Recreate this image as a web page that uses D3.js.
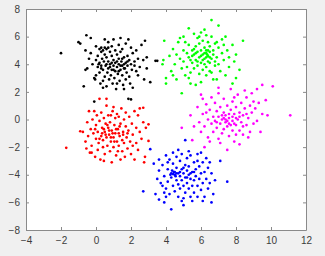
<!DOCTYPE html>
<html>
<head>
  <meta charset='utf-8'>
  <title>Clusters</title>
  <script src='https://cdn.jsdelivr.net/npm/d3@7'></script>
  <style>
    body { margin: 0; background: #f0f0f0; }
    svg { display: block; }
  </style>
</head>
<body>
  <svg id='plot-area' width='325' height='256'></svg>
  <script>
    const xTicks = [-4, -2, 0, 2, 4, 6, 8, 10, 12];
    const yTicks = [-8, -6, -4, -2, 0, 2, 4, 6, 8];

    const blackPts = [[-2.0,4.8],[-1.0,5.6],[-0.9,5.5],[-0.55,6.1],[-0.7,2.4],[-0.6,3.6],[-0.5,3.7],[-0.4,4.4],[-0.3,5.9],[-0.2,4.0],[-0.1,3.0],[0.0,5.3],[0.0,4.3],[0.0,3.2],[-0.05,2.9],[0.1,4.6],[0.1,3.8],[0.2,5.1],[0.2,4.1],[0.2,3.4],[0.25,2.6],[0.3,5.2],[0.3,3.9],[0.35,4.4],[0.4,5.0],[0.4,3.6],[0.4,2.8],[0.45,4.2],[0.5,5.8],[0.5,4.7],[0.5,3.1],[0.55,3.9],[0.6,5.1],[0.6,4.5],[0.6,2.4],[0.65,3.4],[0.7,5.6],[0.7,4.2],[0.7,3.7],[0.75,2.9],[0.8,4.9],[0.8,4.0],[0.85,3.2],[0.9,5.3],[0.9,4.6],[0.9,3.6],[0.95,2.6],[1.0,5.8],[1.0,4.3],[1.0,3.9],[1.05,3.0],[1.1,5.0],[1.1,4.1],[1.1,3.5],[1.15,2.2],[1.2,4.7],[1.2,3.8],[1.25,3.3],[1.3,5.4],[1.3,4.4],[1.3,4.0],[1.35,2.8],[1.4,5.9],[1.4,4.9],[1.4,3.6],[1.45,4.2],[1.5,5.1],[1.5,3.9],[1.5,3.2],[1.55,2.5],[1.6,4.5],[1.6,4.0],[1.65,3.7],[1.7,5.5],[1.7,4.1],[1.7,2.9],[1.75,3.4],[1.8,4.6],[1.8,3.9],[1.85,5.8],[1.9,4.3],[1.9,3.1],[1.95,2.6],[2.0,5.2],[2.0,4.0],[2.05,3.6],[2.1,4.8],[2.1,2.3],[2.2,3.9],[2.3,5.0],[2.3,3.5],[2.4,4.4],[2.5,3.8],[2.6,5.4],[2.7,4.3],[2.75,2.9],[2.8,5.7],[2.9,4.5],[3.1,2.7],[3.4,4.25],[3.5,4.25],[1.85,1.5],[2.0,1.45],[-0.1,1.3],[0.15,4.0],[0.3,3.7],[0.6,4.0],[0.9,4.1],[1.2,4.2],[1.4,3.9],[1.6,3.7],[0.8,3.8],[1.0,3.6],[1.3,3.5],[1.5,4.4],[1.8,4.2],[0.3,4.9],[0.5,5.2],[0.7,5.2],[-0.3,4.8],[2.2,4.2],[2.4,3.2],[1.2,2.6],[0.4,2.3],[1.6,2.2],[-0.6,5.0],[2.9,3.7]];

    const greenPts = [[3.9,5.7],[3.85,4.3],[3.8,4.0],[4.0,3.0],[4.0,2.6],[4.2,4.6],[4.3,3.5],[4.4,5.1],[4.5,4.0],[4.6,2.9],[4.7,5.6],[4.8,4.4],[4.9,3.7],[4.9,1.9],[5.0,6.0],[5.0,5.0],[5.0,4.2],[5.1,3.2],[5.2,4.8],[5.2,3.8],[5.3,6.6],[5.3,5.4],[5.3,4.5],[5.4,3.4],[5.4,2.6],[5.5,5.0],[5.5,4.1],[5.6,6.2],[5.6,4.7],[5.6,3.7],[5.7,5.3],[5.7,4.3],[5.7,2.5],[5.8,5.9],[5.8,4.9],[5.8,3.9],[5.9,5.5],[5.9,4.5],[5.9,3.3],[6.0,6.3],[6.0,5.0],[6.0,4.1],[6.0,2.7],[6.1,5.7],[6.1,4.7],[6.1,3.6],[6.2,6.5],[6.2,5.2],[6.2,4.4],[6.2,4.0],[6.3,5.0],[6.3,4.8],[6.3,3.8],[6.3,3.2],[6.4,5.6],[6.4,4.6],[6.4,4.2],[6.5,5.3],[6.5,4.9],[6.5,3.5],[6.6,7.2],[6.6,6.0],[6.6,4.4],[6.7,5.0],[6.7,2.9],[6.8,3.9],[6.8,5.5],[6.9,4.5],[6.9,2.9],[7.0,6.8],[7.0,5.2],[7.0,4.0],[7.1,3.5],[7.2,5.8],[7.2,4.8],[7.3,4.3],[7.4,3.2],[7.4,6.0],[7.5,5.0],[7.6,4.5],[7.6,3.8],[7.8,5.4],[7.8,2.6],[7.9,4.2],[8.0,3.0],[8.0,4.7],[8.2,3.6],[8.4,5.7],[5.5,4.6],[5.7,4.8],[6.0,4.6],[6.2,4.8],[6.4,5.0],[6.3,4.5],[6.1,4.3],[5.8,4.2],[5.4,4.3],[6.5,4.1],[6.7,4.7],[6.9,5.6],[5.1,5.6],[4.6,4.7],[4.4,3.2],[5.3,3.0],[6.6,3.4],[7.3,5.4],[5.9,6.0],[6.3,6.1],[4.8,5.9],[6.5,4.5],[6.35,4.7],[5.6,5.1],[6.8,4.2]];

    const redPts = [[-1.7,-2.05],[-0.9,-0.85],[-0.75,-0.9],[-0.6,-1.6],[-0.55,-2.1],[-0.5,-0.2],[-0.45,-1.2],[-0.4,0.6],[-0.35,-2.4],[-0.3,-0.7],[-0.25,-1.9],[-0.2,0.0],[-0.15,-1.0],[-0.1,0.6],[-0.05,-2.7],[0.0,-1.4],[0.0,-0.4],[0.05,0.3],[0.1,-2.2],[0.1,-0.9],[0.15,-1.7],[0.2,1.5],[0.2,-0.1],[0.25,-2.9],[0.3,-1.2],[0.3,0.5],[0.35,-0.6],[0.4,-2.0],[0.4,-1.5],[0.45,0.1],[0.5,-0.9],[0.5,-2.5],[0.55,-0.3],[0.6,-1.3],[0.6,1.0],[0.65,-1.9],[0.7,-0.6],[0.7,0.3],[0.75,-1.1],[0.8,-2.3],[0.8,-0.2],[0.85,-1.6],[0.9,-3.1],[0.9,-0.8],[0.95,0.6],[1.0,-1.3],[1.0,-2.0],[1.05,-0.4],[1.1,0.1],[1.1,-1.0],[1.15,-2.6],[1.2,-1.6],[1.2,0.4],[1.25,-0.7],[1.3,0.2],[1.3,-1.9],[1.35,-1.2],[1.4,-2.9],[1.4,-0.3],[1.45,0.8],[1.5,-1.5],[1.5,-2.3],[1.55,-0.9],[1.6,0.0],[1.6,-1.7],[1.65,-2.7],[1.7,-0.5],[1.7,0.5],[1.75,-1.3],[1.8,-2.1],[1.85,-0.8],[1.9,0.2],[1.95,-1.6],[2.0,-2.5],[2.05,-0.3],[2.1,-1.1],[2.2,-2.9],[2.2,0.6],[2.3,-1.7],[2.3,-0.6],[2.4,-2.2],[2.5,0.8],[2.5,-0.9],[2.6,-1.4],[2.7,0.85],[2.7,-0.2],[2.75,-3.1],[2.8,-2.7],[2.85,-0.6],[3.0,-0.35],[3.0,-1.55],[0.35,-1.0],[0.55,-1.1],[0.75,-0.8],[0.95,-1.0],[1.15,-0.7],[1.35,-0.5],[0.45,-0.7],[0.65,-0.4],[0.85,-1.3],[1.05,-1.6],[1.3,-1.0],[1.55,-1.1],[-0.05,-0.7],[0.2,-1.4],[1.8,-1.0],[2.1,-1.9],[0.6,1.5],[0.85,0.3],[-0.25,-2.4],[1.25,-2.3],[0.45,-3.0],[1.0,0.9],[2.4,0.3]];

    const bluePts = [[2.7,-5.2],[3.1,-2.15],[3.3,-3.2],[3.4,-5.4],[3.5,-4.3],[3.6,-5.8],[3.6,-3.7],[3.7,-4.6],[3.8,-3.3],[3.9,-6.0],[3.9,-4.1],[4.0,-2.6],[4.0,-5.0],[4.1,-3.6],[4.1,-4.5],[4.2,-2.9],[4.2,-5.4],[4.3,-6.5],[4.3,-3.9],[4.3,-4.2],[4.4,-3.2],[4.4,-4.8],[4.4,-2.4],[4.5,-3.8],[4.5,-4.0],[4.5,-5.2],[4.6,-3.5],[4.6,-4.4],[4.6,-2.7],[4.7,-3.9],[4.7,-5.6],[4.7,-4.7],[4.8,-3.0],[4.8,-4.1],[4.8,-5.0],[4.9,-3.6],[4.9,-4.4],[4.9,-2.5],[5.0,-3.9],[5.0,-4.8],[5.0,-5.7],[5.1,-1.5],[5.1,-3.3],[5.1,-4.2],[5.1,-5.3],[5.2,-3.7],[5.2,-4.6],[5.2,-2.8],[5.3,-4.0],[5.3,-5.0],[5.3,-3.4],[5.4,-4.3],[5.4,-5.6],[5.4,-2.6],[5.5,-3.8],[5.5,-4.8],[5.6,-3.1],[5.6,-4.4],[5.6,-5.3],[5.7,-3.6],[5.7,-4.1],[5.8,-2.5],[5.8,-4.8],[5.8,-5.6],[5.9,-3.4],[5.9,-4.3],[6.0,-2.4],[6.0,-3.9],[6.0,-5.1],[6.1,-4.6],[6.1,-3.1],[6.2,-5.6],[6.2,-3.8],[6.3,-4.3],[6.3,-2.8],[6.4,-5.0],[6.4,-3.5],[6.5,-4.6],[6.6,-6.0],[6.6,-3.9],[6.7,-5.4],[6.8,-4.4],[7.1,-3.0],[7.5,-4.5],[4.4,-3.95],[4.45,-3.8],[4.55,-4.1],[4.35,-3.7],[4.25,-4.0],[4.6,-3.9],[4.8,-3.8],[5.0,-3.5],[5.2,-4.2],[5.4,-3.9],[5.6,-3.8],[4.1,-3.1],[3.8,-4.8],[4.0,-5.6],[5.5,-5.9],[5.0,-6.2],[6.1,-5.9],[5.3,-2.3],[4.7,-2.2],[3.9,-5.3],[4.9,-5.9],[6.5,-3.1],[3.6,-2.9],[5.8,-3.0]];

    const magentaPts = [[4.9,-0.6],[5.5,-1.5],[5.4,0.3],[5.6,-0.5],[5.8,0.9],[5.9,-0.2],[6.0,-0.9],[6.0,1.8],[6.1,0.4],[6.2,-2.0],[6.2,-0.5],[6.3,1.1],[6.4,0.0],[6.4,-1.3],[6.5,0.7],[6.6,-0.3],[6.6,1.6],[6.7,-0.9],[6.7,0.2],[6.8,1.2],[6.8,-0.1],[6.9,-0.6],[6.9,0.6],[7.0,-1.4],[7.0,0.2],[7.0,1.9],[7.1,-0.3],[7.1,0.9],[7.2,-1.0],[7.2,0.0],[7.3,0.5],[7.3,1.5],[7.3,-0.7],[7.4,-0.2],[7.4,0.3],[7.5,-2.2],[7.5,-0.5],[7.5,1.0],[7.6,0.1],[7.6,-1.2],[7.7,-0.4],[7.7,0.7],[7.7,2.2],[7.8,-0.1],[7.8,-0.8],[7.8,1.3],[7.9,0.4],[7.9,-1.6],[8.0,-0.4],[8.0,0.9],[8.1,0.0],[8.1,1.8],[8.2,-1.8],[8.2,-0.8],[8.2,0.5],[8.3,1.2],[8.3,-0.2],[8.4,0.3],[8.4,-1.1],[8.5,0.8],[8.5,2.1],[8.6,-0.4],[8.6,1.6],[8.7,0.1],[8.8,-0.9],[8.8,1.0],[8.9,0.5],[8.9,1.9],[9.0,-0.3],[9.1,0.8],[9.2,2.2],[9.2,-0.1],[9.3,1.2],[9.4,-0.9],[9.5,2.5],[9.5,0.4],[9.7,1.4],[9.8,0.3],[10.1,2.4],[11.1,0.3],[7.2,0.3],[7.4,0.0],[7.6,0.4],[7.8,0.2],[8.0,0.1],[7.9,-0.3],[7.5,-0.1],[7.3,0.1],[8.2,0.2],[7.6,-0.3],[6.9,-0.2],[8.4,-0.5],[7.1,-1.7],[6.5,-1.6],[8.7,-1.3],[7.9,1.6],[6.3,0.5],[8.6,0.4],[7.0,2.3],[9.0,1.3],[6.1,1.5],[8.0,-1.1]];

    const groups = [
        { pts: blackPts, color: '#000000' },
        { pts: greenPts, color: '#00ff00' },
        { pts: redPts, color: '#ff0000' },
        { pts: bluePts, color: '#0000ff' },
        { pts: magentaPts, color: '#ff00ff' }
    ];

    const margin = { top: 9, right: 19, bottom: 26, left: 26 };
    const svg = d3.select('#plot-area');
    const width = 325 - margin.left - margin.right;
    const height = 256 - margin.top - margin.bottom;
    const g = svg.append('g')
        .attr('transform', `translate(${margin.left}, ${margin.top})`);

    const scaleX = d3.scaleLinear().domain([-4, 12]).range([0, width]);
    const scaleY = d3.scaleLinear().domain([-8, 8]).range([height, 0]);

    g.append('rect')
        .attr('width', width)
        .attr('height', height)
        .attr('fill', '#ffffff');

    // dots first, axes box on top
    groups.forEach((grp) => {
        g.append('g').selectAll('circle')
            .data(grp.pts)
            .join('circle')
            .attr('cx', (d) => scaleX(d[0]))
            .attr('cy', (d) => scaleY(d[1]))
            .attr('r', 1.35)
            .attr('fill', grp.color);
    });

    const styleAxis = (sel, labels) => {
        sel.select('.domain').attr('stroke', '#8a8a8a');
        sel.selectAll('.tick line').attr('stroke', '#8a8a8a');
        sel.selectAll('.tick text')
            .attr('fill', '#3c3c3c')
            .style('font-family', 'Liberation Sans, Arial, sans-serif')
            .style('font-size', '10px')
            .style('display', labels ? null : 'none');
    };

    g.append('g')
        .attr('transform', `translate(0, ${height})`)
        .call(d3.axisBottom(scaleX).tickValues(xTicks).tickSizeInner(-3).tickSizeOuter(0).tickPadding(7))
        .call((s) => styleAxis(s, true));
    g.append('g')
        .call(d3.axisTop(scaleX).tickValues(xTicks).tickSizeInner(-3).tickSizeOuter(0))
        .call((s) => styleAxis(s, false));
    g.append('g')
        .call(d3.axisLeft(scaleY).tickValues(yTicks).tickSizeInner(-3).tickSizeOuter(0).tickPadding(6))
        .call((s) => styleAxis(s, true));
    g.append('g')
        .attr('transform', `translate(${width}, 0)`)
        .call(d3.axisRight(scaleY).tickValues(yTicks).tickSizeInner(-3).tickSizeOuter(0))
        .call((s) => styleAxis(s, false));
  </script>
</body>
</html>
